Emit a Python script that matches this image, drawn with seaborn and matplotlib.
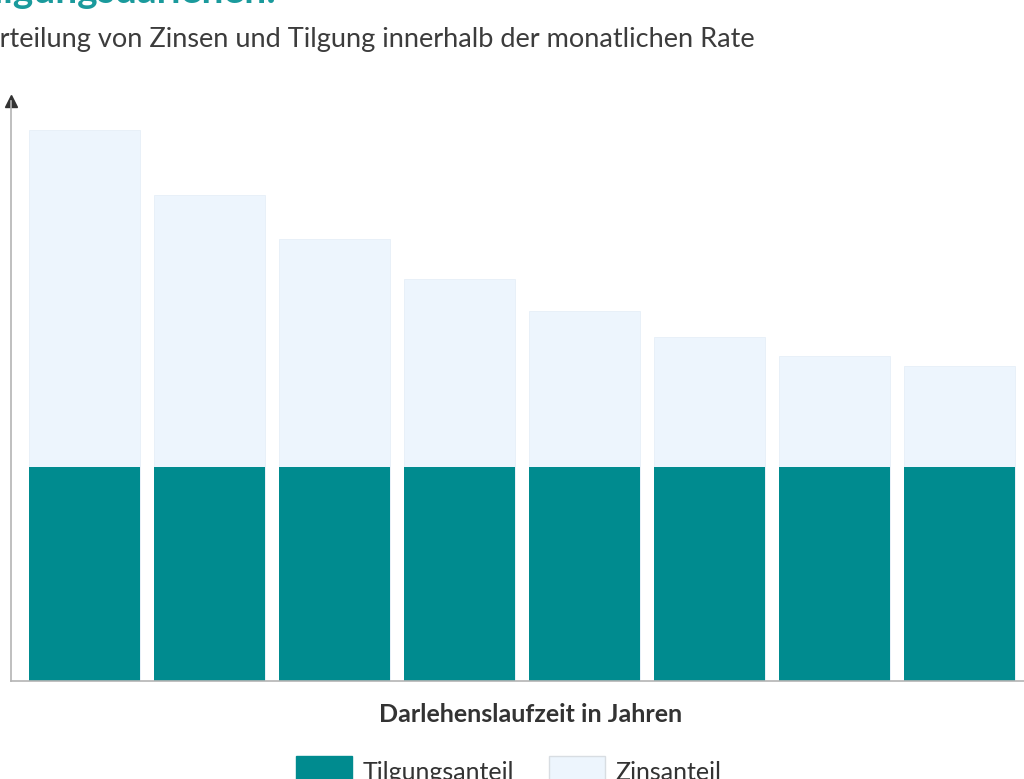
import pandas as pd
import matplotlib.pyplot as plt
import seaborn as sns
from matplotlib.patches import Patch

jahre = [1, 2, 3, 4, 5, 6, 7, 8]
tilgung = [100, 100, 100, 100, 100, 100, 100, 100]
zinsen = [157.5, 127.1, 106.5, 87.9, 72.9, 60.7, 51.9, 47.2]

teal = "#008b8f"
hell = "#edf5fd"
grau = "#b4b4b4"

df = pd.DataFrame({"Jahr": jahre, "Tilgung": tilgung, "Zinsen": zinsen})
df["Rate"] = df["Tilgung"] + df["Zinsen"]

sns.set_theme(style="white")
plt.rcParams["font.family"] = ["Lato", "DejaVu Sans"]

fig = plt.figure(figsize=(10.24, 7.79), dpi=100)
ax = fig.add_axes([11 / 1024, 1 - 681 / 779, 1013 / 1024, 580 / 779])

sns.barplot(data=df, x="Jahr", y="Rate", color=hell, width=0.888, saturation=1,
            edgecolor="#e6eff8", linewidth=0.6, ax=ax)
sns.barplot(data=df, x="Jahr", y="Tilgung", color=teal, width=0.888, saturation=1,
            linewidth=0, ax=ax)

ax.set_xlim(-0.588, 7.516)
ax.set_ylim(0, 271)
ax.set_xticks([])
ax.set_yticks([])
ax.set_xlabel("")
ax.set_ylabel("")
sns.despine(ax=ax)
for s in ["left", "bottom"]:
    ax.spines[s].set_color(grau)
    ax.spines[s].set_linewidth(1.2)
ax.plot(-0.588, 271, marker="^", markersize=8.5, color="#333333", clip_on=False)

fig.text(276 / 1024, 1 - 3 / 779, "Tilgungsdarlehen:", ha="right", va="baseline",
         fontsize=28, fontweight="bold", color="#1a9a9c")
fig.text(755 / 1024, 1 - 47 / 779, "Verteilung von Zinsen und Tilgung innerhalb der monatlichen Rate",
         ha="right", va="baseline", fontsize=19.5, color="#3c3c3c")
fig.text(531 / 1024, 1 - 714 / 779, "Darlehenslaufzeit in Jahren", ha="center", va="center",
         fontsize=18, fontweight="bold", color="#333333")

handles = [Patch(facecolor=teal, edgecolor=teal, label="Tilgungsanteil"),
           Patch(facecolor=hell, edgecolor="#d8dde2", label="Zinsanteil")]
fig.legend(handles=handles, loc="upper left", bbox_to_anchor=(296 / 1024, 1 - 756 / 779),
           ncol=2, frameon=False, fontsize=18, borderpad=0, borderaxespad=0,
           handlelength=2.24, handleheight=1.6, handletextpad=0.44, columnspacing=1.36,
           labelcolor="#333333")

fig.savefig("out.png", dpi=100)
